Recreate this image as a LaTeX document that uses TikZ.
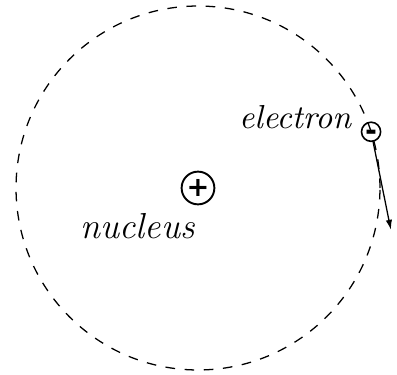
\documentclass[tikz,border=0pt]{standalone}
\usepackage{fontspec}
\newfontfamily\chargefont{DejaVu Sans}[BoldFont={DejaVu Sans Bold}]
\usepackage{tikz}
\usetikzlibrary{arrows.meta,positioning}

\begin{document}
\begin{tikzpicture}[
  orbit/.style={dashed},
  charge/.style={draw, circle, inner sep=0pt, line width=0.6pt, font=\chargefont\bfseries},
  label/.style={inner sep=0pt},
  arrow/.style={-{Latex[length=1.1mm, width=0.7mm]}}
]
\useasboundingbox (-2.176,-2.055) rectangle (2.187,2.066);
\draw[orbit] (0,0) circle (2);
\node[charge, minimum size=3.6mm] (nucleus) at (0,0) {\fontsize{8.5}{9}\selectfont +};
% hyphen raised to sit in the middle of the circle
\node[charge, minimum size=2.1mm, line width=0.5pt] (electron) at (18:2)
  {\fontsize{9}{9}\selectfont\raisebox{-0.317em}[0pt][0pt]{-}};
\coordinate (velocity) at (2.12,-0.46);
\node[label, anchor=base east, font=\itshape\fontsize{11.3}{13}\selectfont] (nucleuslabel)
  at ([shift={(-0.03,-0.55)}]nucleus.center) {nucleus};
\node[label, left=1mm of electron.west, anchor=base east, yshift=0.4mm,
  font=\itshape\fontsize{10.4}{12}\selectfont] (electronlabel) {electron};
\draw[arrow] (electron) -- (velocity);
\end{tikzpicture}
\end{document}
